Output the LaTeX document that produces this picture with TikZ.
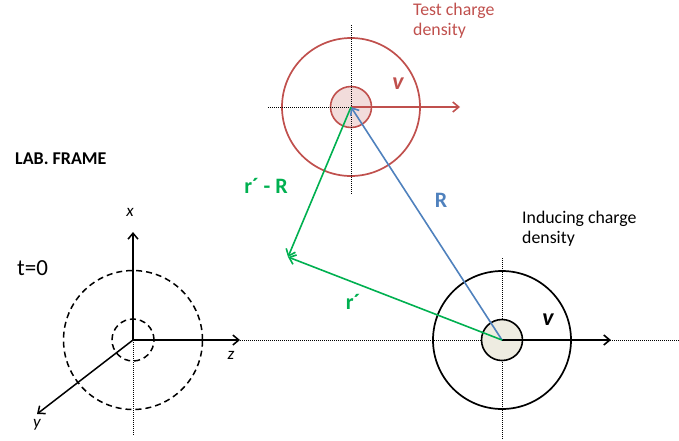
\documentclass[tikz,border=0pt]{standalone}
\usepackage{fontspec}
\setmainfont{Carlito}
\usetikzlibrary{arrows.meta,positioning}
\definecolor{chred}{HTML}{C0504D}
\definecolor{chblue}{HTML}{4F81BD}
\definecolor{chgreen}{HTML}{00B050}
\definecolor{redfill}{HTML}{F2DCDB}
\definecolor{beigefill}{HTML}{EEECE1}

\begin{document}
\begin{tikzpicture}[x=1pt, y=-1pt,
  ring/.style={circle, draw, line width=1.7pt, inner sep=0pt, minimum size=138pt},
  core/.style={circle, draw, line width=1.6pt, inner sep=0pt, minimum size=41pt},
  guide/.style={line width=0.8pt, dash pattern=on 1pt off 1pt},
  arr/.style={-{Straight Barb[length=6pt,width=10pt]}, line width=1.6pt},
  vec/.style={-{Straight Barb[length=6pt,width=10pt]}, line width=1.6pt},
  lbl/.style={font=\fontsize{17.8}{20}\selectfont, align=left, inner sep=0pt},
  big/.style={font=\fontsize{22}{24}\selectfont\bfseries, inner sep=0pt},
  ax/.style={font=\fontsize{17}{18}\selectfont\itshape, inner sep=0pt}]
\useasboundingbox (0,0) rectangle (679,440);

% lab frame axes
\coordinate (O) at (133,340);
\coordinate (xtip) at (133,232);
\coordinate (ztip) at (240,340);
\coordinate (ytip) at (37,414);
\coordinate (obot) at (133,436);
\node[ring, line width=1.5pt, dash pattern=on 6pt off 4pt, minimum size=139pt] (lab) at (O) {};
\node[ring, line width=1.5pt, dash pattern=on 6pt off 4pt, minimum size=42pt] (labin) at (O) {};
\draw[guide] (O) -- (obot);
\draw[arr, line width=1.5pt] (O) -- (xtip);
\draw[arr, line width=1.5pt] (O) -- (ztip);
\draw[arr, line width=1.5pt] (O) -- (ytip);
\node[ax] (xlab) at (130,212) {x};
\node[ax] (zlab) at (231,355) {z};
\node[ax] (ylab) at (37,425) {y};
\node[font=\fontsize{23}{26}\selectfont, inner sep=0pt, anchor=west] (t0) at (17,268) {t=0};
\node[lbl, font=\fontsize{18}{20}\selectfont\bfseries, anchor=west] (frame) at (15,159) {LAB. FRAME};

% inducing charge
\coordinate (rend) at (679,340);
\coordinate (itop) at (502,258);
\coordinate (ibot) at (502,440);
\coordinate (vtipb) at (611,340);
\draw[guide] (ztip) -- (rend);
\draw[guide] (itop) -- (ibot);
\node[ring] (ind) at (502,340) {};
\node[core, fill=beigefill] (indin) at (502,340) {};
\draw[arr] (indin.center) -- (vtipb);
\node[font=\fontsize{24}{26}\selectfont\bfseries\itshape, inner sep=0pt] (vb) at (548,320) {v};
\node[lbl, anchor=north west] (indtxt) at (522,211) {Inducing charge\\density};

% test charge
\coordinate (tleft) at (268,107);
\coordinate (tright) at (433,107);
\coordinate (ttop) at (351,25);
\coordinate (tbot) at (351,195);
\coordinate (vtipr) at (460,107);
\node[ring, draw=chred] (test) at (351,107) {};
\node[core, draw=chred, fill=redfill] (testin) at (351,107) {};
\draw[guide] (tleft) -- (tright);
\draw[guide] (ttop) -- (tbot);
\draw[arr, chred] (testin.center) -- (vtipr);
\node[font=\fontsize{24}{26}\selectfont\bfseries\itshape, inner sep=0pt, text=chred] (vr) at (398,84) {v};
\node[lbl, anchor=north west, text=chred] (testtxt) at (413,3) {Test charge\\density};

% vectors
\coordinate (P) at (288,257);
\draw[vec, chblue] (indin.center) -- (testin.center);
\draw[vec, chgreen] (indin.center) -- (P);
\draw[vec, chgreen] (testin.center) -- (P);
\node[big, text=chblue] (Rl) at (441,200) {R};
\node[big, text=chgreen] (rRl) at (266,186) {r´ - R};
\node[big, text=chgreen] (rl) at (353,302) {r´};
\end{tikzpicture}
\end{document}
